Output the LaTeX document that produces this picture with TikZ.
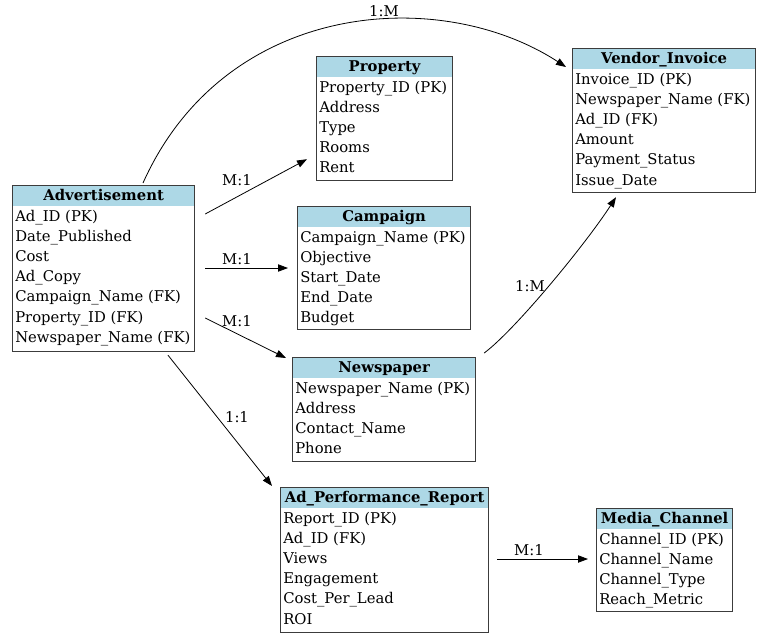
\documentclass[tikz,border=0pt]{standalone}
\usepackage{fontspec}
\setmainfont{DejaVu Serif}
\usetikzlibrary{arrows.meta}
\definecolor{hdrblue}{RGB}{173,216,230}
\definecolor{boxgray}{RGB}{60,60,60}
\tikzset{
  tbox/.style={draw=boxgray, line width=0.9pt, inner sep=0pt, anchor=north west},
  hdr/.style={fill=hdrblue},
  ttl/.style={font=\bfseries\fontsize{11.1}{12}\selectfont, anchor=base, inner sep=0pt},
  fld/.style={font=\fontsize{11.1}{12}\selectfont, anchor=base west, inner sep=0pt},
  rel/.style={-{Triangle[length=7.5pt,width=5.5pt]}, line width=0.6pt},
  lbl/.style={font=\fontsize{11.1}{12}\selectfont, inner sep=0pt},
}
\newcommand\ertable[7]{%
  \node[tbox, minimum width=#4*0.75pt, minimum height=#5*0.75pt] (#1) at (#2,#3) {};
  \fill[hdr] ([shift={(1,1)}]#1.north west) rectangle ([shift={(-1,21)}]#1.north east);
  \node[ttl] (#1-t) at ([shift={(0,15.5)}]#1.north) {#6};
  \foreach \f [count=\i] in {#7} {
    \node[fld] (#1-\i) at ([shift={(3,{15.8+20.2*\i})}]#1.north west) {\f};
  }
}
\begin{document}
\begin{tikzpicture}[x=0.75pt,y=-0.75pt]
\useasboundingbox (0,0) rectangle (768,640);
\ertable{adv}{12}{185}{182}{166}{Advertisement}{Ad\_ID (PK),Date\_Published,Cost,Ad\_Copy,Campaign\_Name (FK),Property\_ID (FK),Newspaper\_Name (FK)}
\ertable{prop}{316}{56}{136}{124}{Property}{Property\_ID (PK),Address,Type,Rooms,Rent}
\ertable{camp}{297}{206}{173}{123}{Campaign}{Campaign\_Name (PK),Objective,Start\_Date,End\_Date,Budget}
\ertable{news}{292}{357}{183}{104}{Newspaper}{Newspaper\_Name (PK),Address,Contact\_Name,Phone}
\ertable{vend}{572}{48}{183}{144}{Vendor\_Invoice}{Invoice\_ID (PK),Newspaper\_Name (FK),Ad\_ID (FK),Amount,Payment\_Status,Issue\_Date}
\ertable{perf}{280}{487}{208}{145}{Ad\_Performance\_Report}{Report\_ID (PK),Ad\_ID (FK),Views,Engagement,Cost\_Per\_Lead,ROI}
\ertable{media}{596}{508}{136}{103}{Media\_Channel}{Channel\_ID (PK),Channel\_Name,Channel\_Type,Reach\_Metric}

\draw[rel] ([shift={(10,29)}]adv.north east) -- ([shift={(-9,-22)}]prop.south west);
\draw[rel] ([shift={(10,83)}]adv.north east) -- ([shift={(-9,62)}]camp.north west);
\draw[rel] ([shift={(10,133)}]adv.north east) -- ([shift={(-6,1)}]news.north west);
\draw[rel] ([shift={(156,3)}]adv.south west) -- ([shift={(-8,-1)}]perf.north west);
\draw[rel] ([shift={(131,-2)}]adv.north west) .. controls (225,0) and (440,-15) .. ([shift={(-6,19)}]vend.north west);
\draw[rel] ([shift={(8,-4)}]news.north east) .. controls (515,330) and (585,245) .. ([shift={(44,4)}]vend.south west);
\draw[rel] ([shift={(8,72)}]perf.north east) -- ([shift={(-8,51)}]media.north west);

\node[lbl] (l1) at (237,180) {M:1};
\node[lbl] (l2) at (237,259) {M:1};
\node[lbl] (l3) at (237,321) {M:1};
\node[lbl] (l4) at (237,417) {1:1};
\node[lbl] (l5) at (384,11) {1:M};
\node[lbl] (l6) at (530,286) {1:M};
\node[lbl] (l7) at (529,550) {M:1};
\end{tikzpicture}
\end{document}
